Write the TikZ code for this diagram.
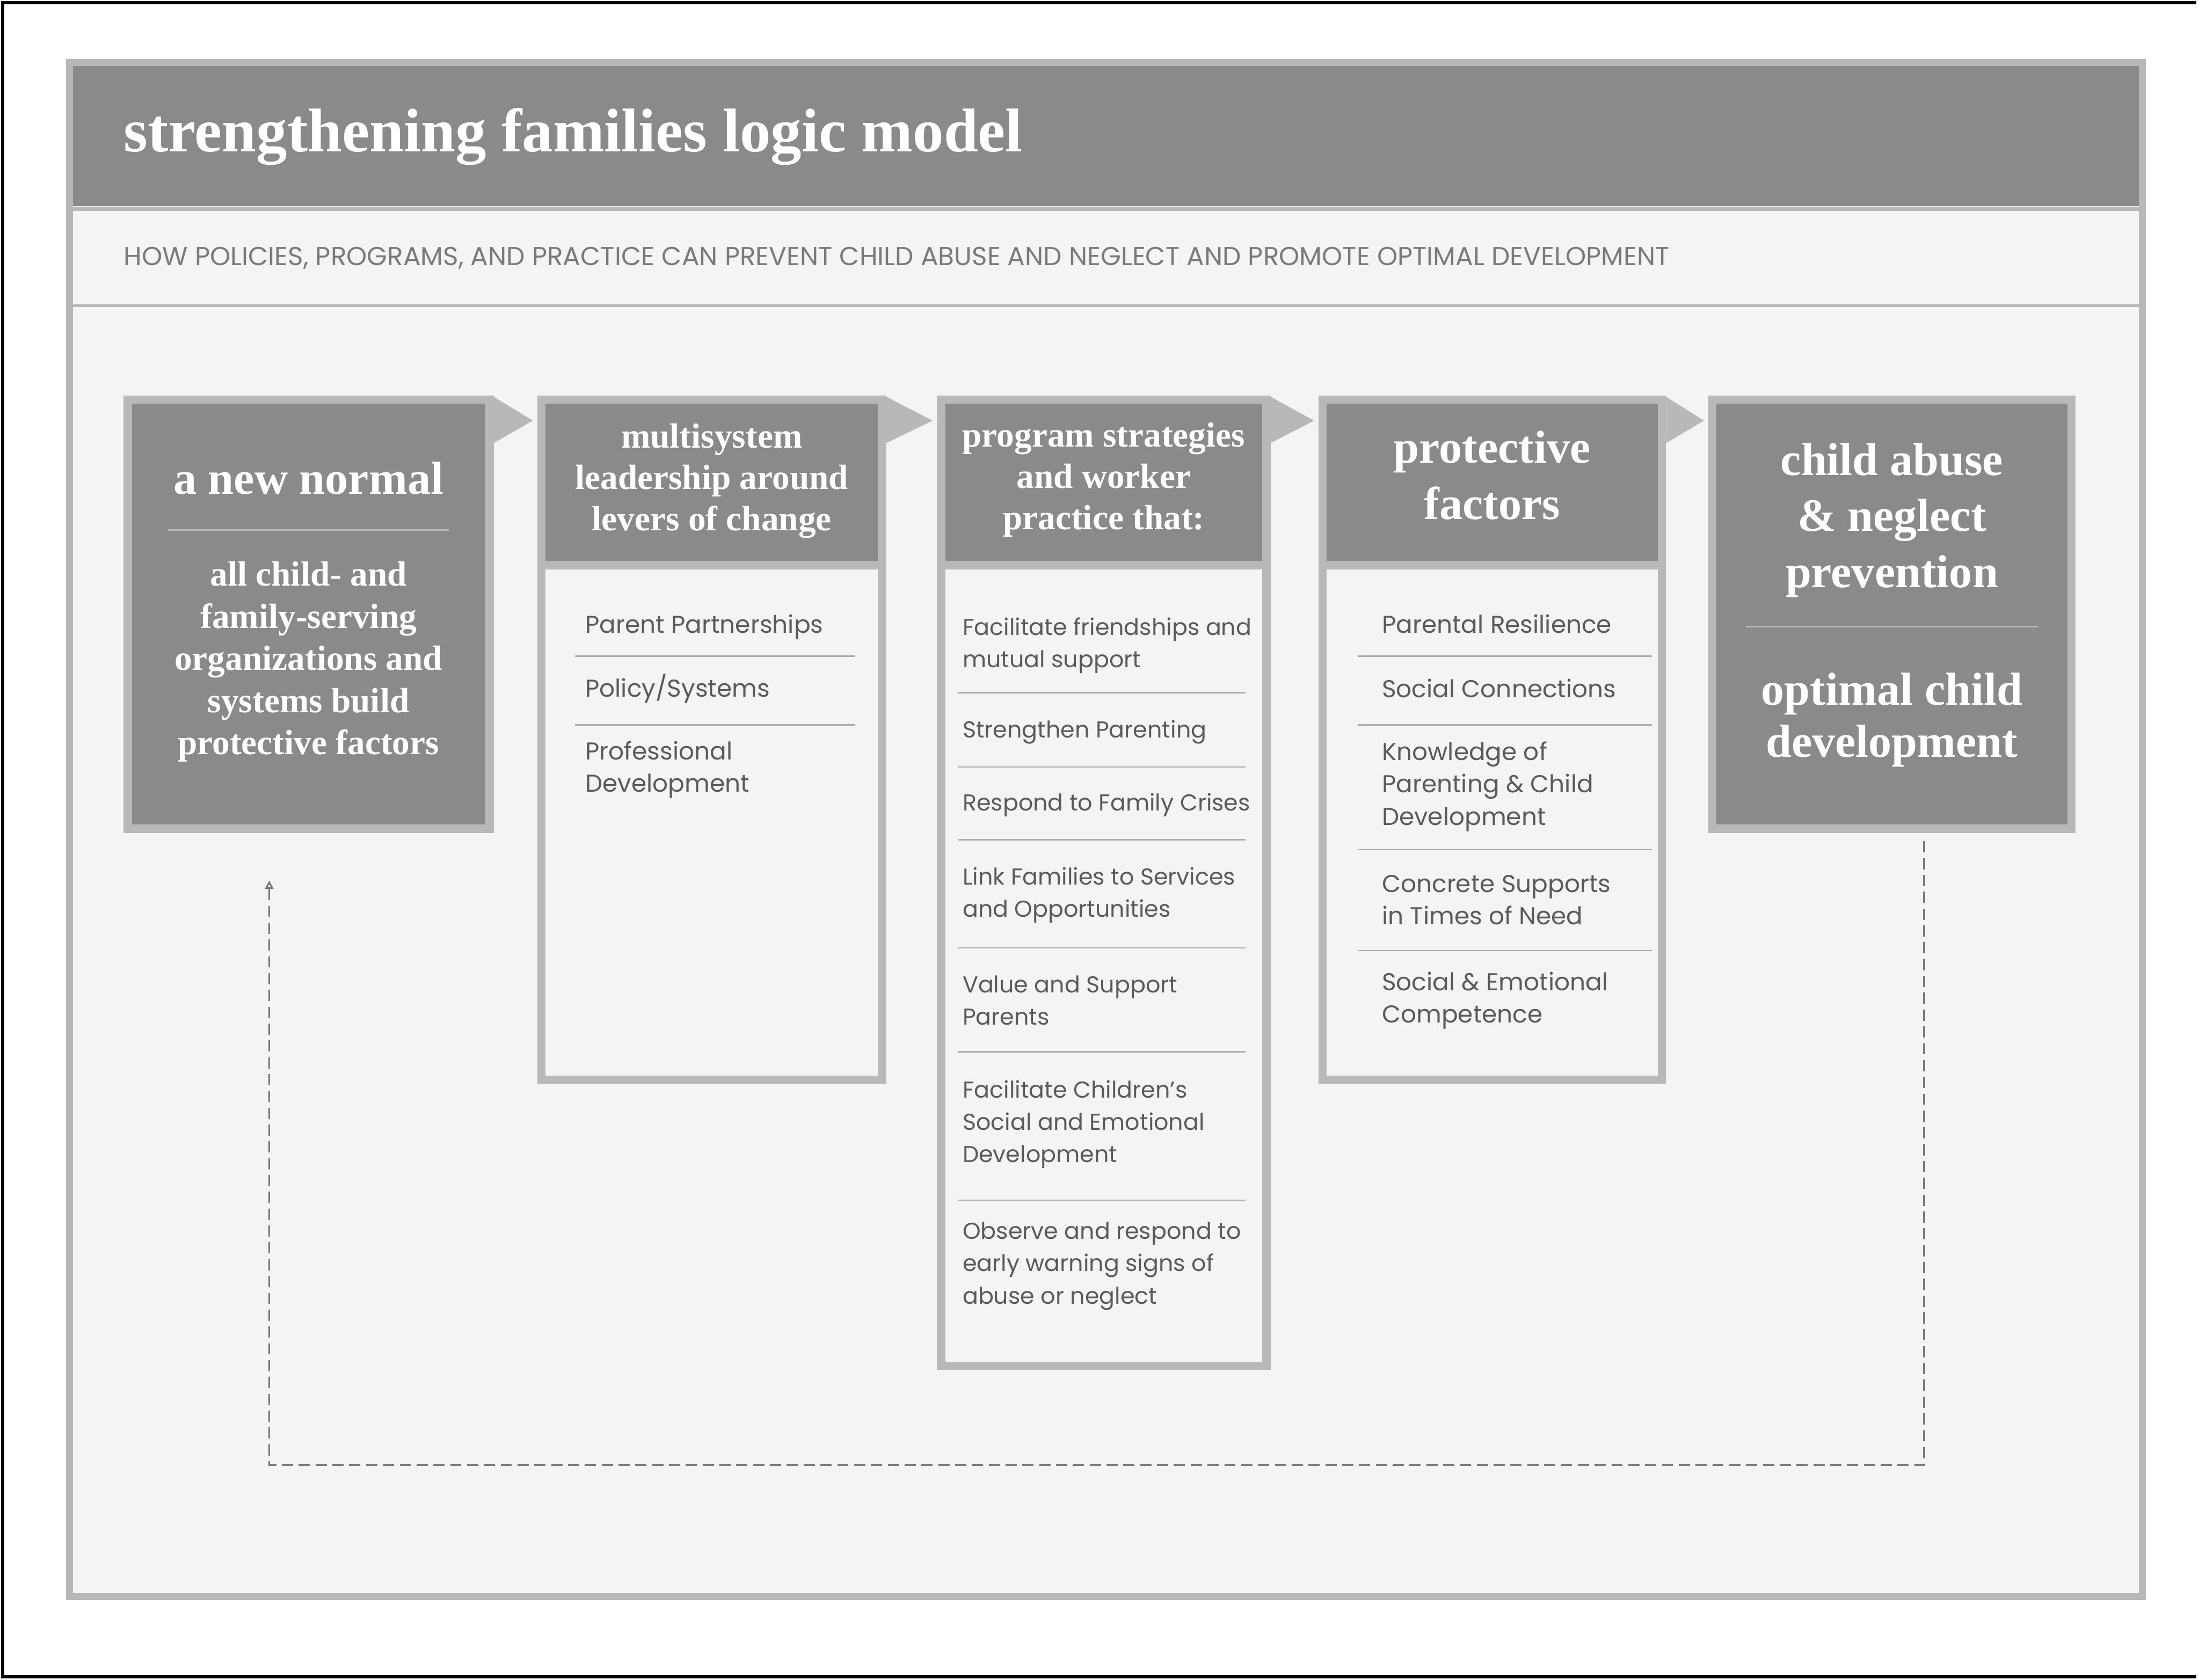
\documentclass[tikz,border=0pt]{standalone}
\usepackage{fontspec}
\setmainfont{Liberation Serif}
\newfontfamily\bodysans{Poppins}
\usetikzlibrary{arrows.meta,calc}

\definecolor{hdr}{HTML}{8A8A8A}
\definecolor{rim}{HTML}{B8B8B8}
\definecolor{panelbg}{HTML}{F4F4F4}
\definecolor{itemtext}{HTML}{5A5A5A}
\definecolor{subtext}{HTML}{7A7A7A}
\definecolor{sepline}{HTML}{ABABAB}
\definecolor{loopline}{HTML}{787878}

\begin{document}
\begin{tikzpicture}[x=0.5pt,y=-0.5pt,
  plate/.style={rectangle, inner sep=0pt, outer sep=0pt, anchor=north west},
  rimbox/.style={plate, fill=rim},
  hdrbox/.style={plate, fill=hdr},
  bodybox/.style={plate, fill=panelbg},
  hdrtext/.style={text=white, align=center, inner sep=0pt,
    font=\fontsize{12.5pt}{14.75pt}\selectfont\bfseries},
  bigtext/.style={text=white, align=center, inner sep=0pt,
    font=\fontsize{16.5pt}{20pt}\selectfont\bfseries},
  item/.style={anchor=west, align=left, inner sep=0pt, text=itemtext,
    font=\bodysans\fontsize{8.7pt}{11.5pt}\selectfont},
  narrowitem/.style={item, font=\bodysans\fontsize{8.2pt}{11.5pt}\selectfont},
  rule/.style={draw=sepline, line width=0.5pt},
  flow/.style={fill=rim},
  loop/.style={draw=loopline, line width=0.6pt, dash pattern=on 4pt off 2pt,
    -{Triangle[open, length=3pt, width=3pt]}}
]
\useasboundingbox (0,0) rectangle (1568,1198);

% page frame
\draw[black, line width=1.2pt] (1566,2) -- (2,2) -- (2,1196) -- (1566,1196);

% panel with title band and subtitle strip
\node[rimbox, minimum width=741.5pt, minimum height=549.5pt] (panel) at (47,42) {};
\node[bodybox, minimum width=736.5pt, minimum height=544.5pt] (panelin) at (52,47) {};
\node[hdrbox, minimum width=736.5pt, minimum height=50pt] (band) at (52,47) {};
\draw[rim, line width=1.5pt] (52,149) -- (1525,149);
\node[anchor=base west, inner sep=0pt, text=white,
  font=\fontsize{22pt}{26pt}\selectfont\bfseries] (title) at (88,108)
  {strengthening families logic model};
\node[anchor=west, inner sep=0pt, text=subtext,
  font=\bodysans\fontsize{9.3pt}{11pt}\selectfont] (subtitle) at (88,184)
  {HOW POLICIES, PROGRAMS, AND PRACTICE CAN PREVENT CHILD ABUSE AND NEGLECT AND PROMOTE OPTIMAL DEVELOPMENT};
\draw[rim, line width=1pt] (52,218) -- (1525,218);

% box 1: a new normal
\node[rimbox, minimum width=132pt, minimum height=156pt] (b1) at (88,282) {};
\node[hdrbox, minimum width=126pt, minimum height=150pt] (i1) at (94,288) {};
\node[bigtext] (t1) at (220,341) {a new normal};
\draw[draw=rim, line width=0.6pt] (120,378) -- (320,378);
\node[hdrtext, font=\fontsize{12.5pt}{15pt}\selectfont\bfseries] (t1b) at (220,472)
  {all child- and\\family-serving\\organizations and\\systems build\\protective factors};

% box 2: multisystem leadership
\node[rimbox, minimum width=124.5pt, minimum height=245.5pt] (b2) at (383,282) {};
\node[hdrbox, minimum width=118.5pt, minimum height=56pt] (h2) at (389,288) {};
\node[bodybox, minimum width=118.5pt, minimum height=180.5pt] (p2) at (389,406) {};
\node[hdrtext] (t2) at (507.5,343) {multisystem\\leadership around\\levers of change};
\node[item] (b2i1) at (417,447) {Parent Partnerships};
\draw[rule] (410,468) -- (610,468);
\node[item] (b2i2) at (417,491) {Policy/Systems};
\draw[rule] (410,517) -- (610,517);
\node[item] (b2i3) at (417,549) {Professional\\Development};

% box 3: program strategies
\node[rimbox, minimum width=119pt, minimum height=347.5pt] (b3) at (668,282) {};
\node[hdrbox, minimum width=113pt, minimum height=56pt] (h3) at (674,288) {};
\node[bodybox, minimum width=113pt, minimum height=282.5pt] (p3) at (674,406) {};
\node[hdrtext] (t3) at (787,342) {program strategies\\and worker\\practice that:};
\node[narrowitem] (b3i1) at (686,460.5) {Facilitate friendships and\\mutual support};
\draw[rule] (683,494) -- (888,494);
\node[narrowitem] (b3i2) at (686,522) {Strengthen Parenting};
\draw[rule] (683,547) -- (888,547);
\node[narrowitem] (b3i3) at (686,574) {Respond to Family Crises};
\draw[rule] (683,599) -- (888,599);
\node[narrowitem] (b3i4) at (686,638.5) {Link Families to Services\\and Opportunities};
\draw[rule] (683,676) -- (888,676);
\node[narrowitem] (b3i5) at (686,713.5) {Value and Support\\Parents};
\draw[rule] (683,750) -- (888,750);
\node[narrowitem] (b3i6) at (686,802) {Facilitate Children’s\\Social and Emotional\\Development};
\draw[rule] (683,856) -- (888,856);
\node[narrowitem] (b3i7) at (686,903) {Observe and respond to\\early warning signs of\\abuse or neglect};

% box 4: protective factors
\node[rimbox, minimum width=124pt, minimum height=245.5pt] (b4) at (940,282) {};
\node[hdrbox, minimum width=118pt, minimum height=56pt] (h4) at (946,288) {};
\node[bodybox, minimum width=118pt, minimum height=180.5pt] (p4) at (946,406) {};
\node[bigtext] (t4) at (1064,339) {protective\\factors};
\node[item] (b4i1) at (985,445) {Parental Resilience};
\draw[rule] (968,468) -- (1178,468);
\node[item] (b4i2) at (985,491) {Social Connections};
\draw[rule] (968,517) -- (1178,517);
\node[item] (b4i3) at (985,561) {Knowledge of\\Parenting \& Child\\Development};
\draw[rule] (968,606) -- (1178,606);
\node[item] (b4i4) at (985,642) {Concrete Supports\\in Times of Need};
\draw[rule] (968,678) -- (1178,678);
\node[item] (b4i5) at (985,713.5) {Social \& Emotional\\Competence};

% box 5: outcomes
\node[rimbox, minimum width=131pt, minimum height=156pt] (b5) at (1218,282) {};
\node[hdrbox, minimum width=125pt, minimum height=150pt] (i5) at (1224,288) {};
\node[bigtext] (t5) at (1349,371) {child abuse\\\& neglect\\prevention};
\draw[draw=rim, line width=0.6pt] (1245,447) -- (1453,447);
\node[bigtext, font=\fontsize{16.5pt}{18.5pt}\selectfont\bfseries] (t5b) at (1349,513.5)
  {optimal child\\development};

% flow arrows between the boxes
\foreach \a/\b in {b1/b2, b2/b3, b3/b4, b4/b5}{
  \fill[flow] ($(\a.north east)+(0,1)$) -- ($(\b.north west)+(-3,18)$)
    -- ($(\a.north east)+(0,34)$) -- cycle;
}

% feedback loop from outcomes back to the new normal
\coordinate (loopR) at (1372,1045);
\coordinate (loopL) at (192,1045);
\coordinate (loopStart) at ($(b5.south -| loopR)+(0,6)$);
\coordinate (loopEnd) at ($(b1.south -| loopL)+(0,34)$);
\draw[loop] (loopStart) -- (loopR) -- (loopL) -- (loopEnd);
\end{tikzpicture}
\end{document}
